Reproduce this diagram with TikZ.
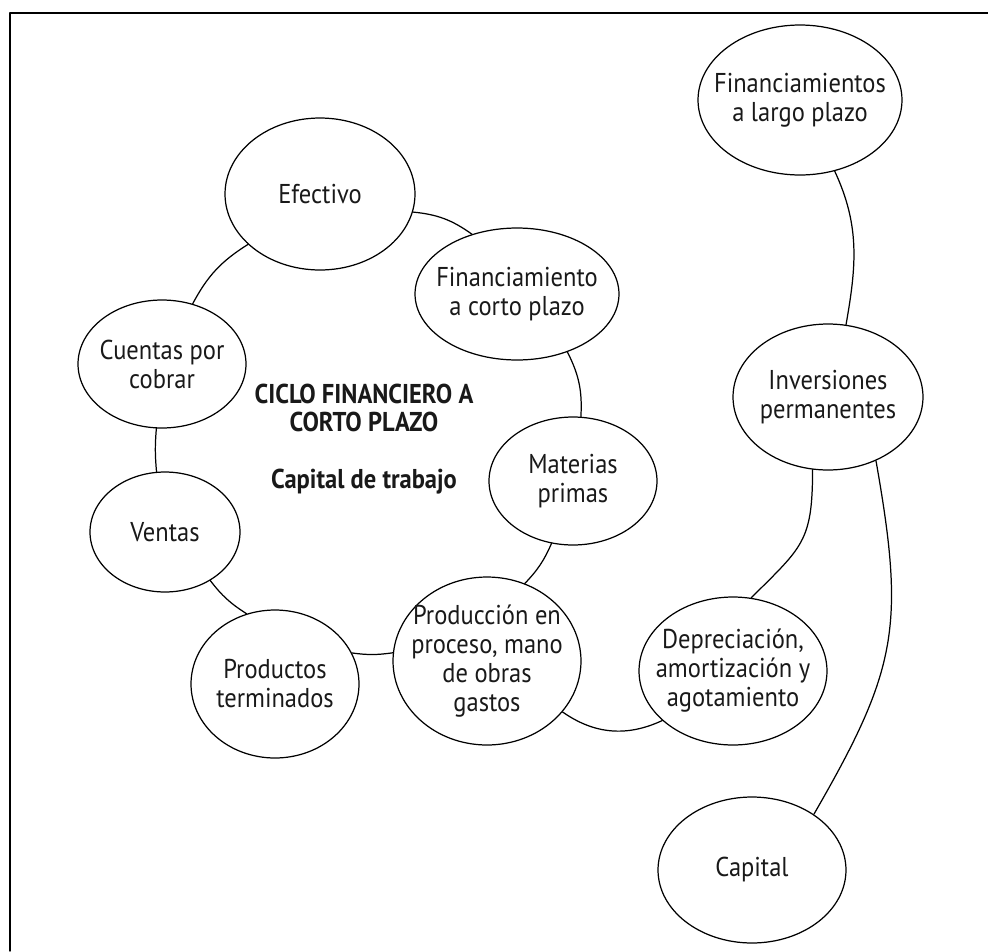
\documentclass[tikz,border=0pt]{standalone}
\usepackage{fontspec}
\setmainfont{PT Sans}[FakeStretch=0.9]
\usepackage{tikz}
\usetikzlibrary{shapes.geometric}

\begin{document}
\begin{tikzpicture}[line cap=round,line join=round,x=0.02cm,y=0.02cm,
  bub/.style 2 args={ellipse,draw,line width=0.7pt,minimum width=#1,minimum height=#2,inner sep=-12pt,align=center,text=black!90,font=\fontsize{15.5}{16.5}\selectfont},
  ttl/.style={align=center,text=black!90,font=\bfseries\fontsize{15.5}{16}\selectfont}]
\useasboundingbox (0,0) rectangle (988,-951);
\draw[line width=0.8pt] (10,-951) -- (10,-13) -- (988,-13);
% ciclo a corto plazo
\node[bub={3.8cm}{3.04cm}] (efe) at (320,-194) {Efectivo};
\node[bub={4.08cm}{2.64cm}] (fcp) at (517,-294) {Financiamiento\\a corto plazo};
\node[bub={3.36cm}{2.56cm}] (mat) at (573,-481) {Materias\\primas};
\node[bub={3.76cm}{3.36cm}] (prd) at (487,-661) {Producción en\\proceso, mano\\de obras\\gastos};
\node[bub={3.36cm}{2.96cm}] (pro) at (275,-684) {Productos\\terminados};
\node[bub={3.0cm}{2.4cm}] (ven) at (165,-532) {Ventas};
\node[bub={3.36cm}{2.56cm}] (cue) at (162,-364) {Cuentas por\\cobrar};
\node[ttl] (ciclo) at (364,-408) {CICLO FINANCIERO A\\CORTO PLAZO};
\node[ttl] (capt) at (364,-482) {Capital de trabajo};
% largo plazo
\node[bub={4.08cm}{3.0cm}] (fil) at (800,-100) {Financiamientos\\a largo plazo};
\node[bub={3.8cm}{2.92cm}] (inv) at (828,-397) {Inversiones\\permanentes};
\node[bub={3.76cm}{2.96cm}] (dep) at (733,-671) {Depreciación,\\amortización y\\agotamiento};
\node[bub={3.76cm}{2.92cm}] (cap) at (752,-870) {Capital};
% enlaces
\draw[line width=0.7pt] (efe.-11) to[bend left=15] (fcp.127);
\draw[line width=0.7pt] (fcp.-49) to[bend left=15] (mat.83);
\draw[line width=0.7pt] (mat.-109) to[bend left=10] (prd.64);
\draw[line width=0.7pt] (prd.175) to[bend left=8] (pro.22);
\draw[line width=0.7pt] (pro.112) to[bend left=10] (ven.-47);
\draw[line width=0.7pt] (ven.98) to[bend left=5] (cue.-95);
\draw[line width=0.7pt] (cue.63) to[bend left=15] (efe.215);
\draw[line width=0.7pt] (prd.-34) to[out=-35,in=-155] (dep.215);
\draw[line width=0.7pt] (dep.76) to[out=45,in=-90,looseness=1.3] (inv.-102);
\draw[line width=0.7pt] (fil.-64) to[out=-65,in=80] (inv.76);
\draw[line width=0.7pt] (inv.-53) to[out=-80,in=60,looseness=1.2] (cap.42);
\end{tikzpicture}
\end{document}
